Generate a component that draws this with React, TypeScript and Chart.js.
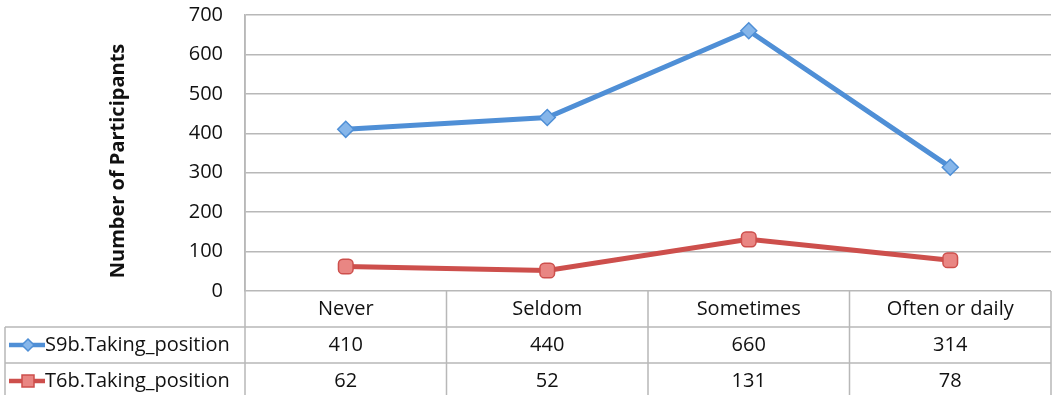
import React, { useEffect, useRef } from "react";
import { Chart, registerables } from "chart.js";

Chart.register(...registerables);

const categories = ["Never", "Seldom", "Sometimes", "Often or daily"];
const seriesNames = ["S9b.Taking_position", "T6b.Taking_position"];
const s9bValues = [410, 440, 660, 314];
const t6bValues = [62, 52, 131, 78];
const yAxisTitle = "Number of Participants";
const yMin = 0;
const yMax = 700;
const yStep = 100;

const FONT = '"Open Sans", "Noto Sans", sans-serif';
const GRID = "#b8b8b8";
const TEXT = "#111111";

const blueLine = "#4f8fd6";
const blueFill = "#86b6ea";
const redLine = "#cd4f4c";
const redFill = "#e98683";

const tablePlugin = {
  id: "dataTable",
  afterDraw(chart: any) {
    const ctx = chart.ctx as CanvasRenderingContext2D;
    const area = chart.chartArea;
    const xs = chart.scales.x;
    const n = categories.length;
    const colW = (area.right - area.left) / n;
    const rowH = 36;
    const y0 = area.bottom;
    const y1 = y0 + rowH;
    const y2 = y1 + rowH;
    const bottom = chart.height + 5;
    const tableLeft = 5;

    ctx.save();
    // y-axis title
    ctx.save();
    ctx.translate(118, 161);
    ctx.rotate(-Math.PI / 2);
    ctx.fillStyle = TEXT;
    ctx.font = `bold 20px ${FONT}`;
    ctx.textAlign = "center";
    ctx.textBaseline = "middle";
    ctx.fillText(yAxisTitle, 0, 0);
    ctx.restore();

    ctx.strokeStyle = GRID;
    ctx.lineWidth = 1.5;
    ctx.beginPath();
    ctx.moveTo(tableLeft, y1);
    ctx.lineTo(area.right, y1);
    ctx.moveTo(tableLeft, y2);
    ctx.lineTo(area.right, y2);
    ctx.moveTo(tableLeft, y1);
    ctx.lineTo(tableLeft, bottom);
    for (let i = 0; i <= n; i++) {
      const x = area.left + colW * i;
      ctx.moveTo(x, i === 0 ? area.top : y0);
      ctx.lineTo(x, bottom);
    }
    ctx.stroke();

    ctx.fillStyle = TEXT;
    ctx.font = `20px ${FONT}`;
    ctx.textAlign = "center";
    ctx.textBaseline = "middle";
    const rowsVals = [s9bValues, t6bValues];
    categories.forEach((c, i) => {
      const cx = xs.getPixelForValue(i);
      ctx.fillText(c, cx, y0 + rowH / 2);
      rowsVals.forEach((vals, r) => {
        ctx.fillText(String(vals[i]), cx, y1 + rowH * r + rowH / 2);
      });
    });

    const styles = [
      { line: blueLine, fill: blueFill, shape: "diamond" },
      { line: redLine, fill: redFill, shape: "square" },
    ];
    seriesNames.forEach((name, r) => {
      const cy = y1 + rowH * r + rowH / 2;
      const st = styles[r];
      ctx.strokeStyle = st.line;
      ctx.lineWidth = 4.5;
      ctx.beginPath();
      ctx.moveTo(9, cy);
      ctx.lineTo(45, cy);
      ctx.stroke();
      ctx.fillStyle = st.fill;
      ctx.strokeStyle = st.line;
      ctx.lineWidth = 1.5;
      ctx.beginPath();
      if (st.shape === "diamond") {
        ctx.moveTo(28, cy - 6);
        ctx.lineTo(34, cy);
        ctx.lineTo(28, cy + 6);
        ctx.lineTo(22, cy);
        ctx.closePath();
      } else {
        ctx.rect(22, cy - 6, 12, 12);
      }
      ctx.fill();
      ctx.stroke();
      ctx.fillStyle = TEXT;
      ctx.font = `20px ${FONT}`;
      ctx.textAlign = "left";
      ctx.fillText(name, 45, cy);
    });
    ctx.restore();
  },
};

export default function App() {
  const ref = useRef<HTMLCanvasElement>(null);

  useEffect(() => {
    document.body.style.margin = "0";
    const canvas = ref.current!;
    const chart = new Chart(canvas, {
      type: "line",
      data: {
        labels: categories,
        datasets: [
          {
            label: seriesNames[0],
            data: s9bValues,
            borderColor: blueLine,
            backgroundColor: blueFill,
            borderWidth: 5,
            pointStyle: "rectRot",
            pointRadius: 8,
            pointBorderWidth: 1.5,
            pointBackgroundColor: blueFill,
            pointBorderColor: blueLine,
            tension: 0,
          },
          {
            label: seriesNames[1],
            data: t6bValues,
            borderColor: redLine,
            backgroundColor: redFill,
            borderWidth: 5,
            pointStyle: "rectRounded",
            pointRadius: 8.5,
            pointBorderWidth: 1.5,
            pointBackgroundColor: redFill,
            pointBorderColor: redLine,
            tension: 0,
          },
        ],
      },
      options: {
        animation: false,
        responsive: true,
        maintainAspectRatio: false,
        layout: { padding: { top: 15, bottom: 104, left: 0, right: 0 } },
        plugins: {
          legend: { display: false },
          tooltip: { enabled: false },
        },
        scales: {
          x: {
            type: "category",
            display: false,
            offset: true,
          },
          y: {
            min: yMin,
            max: yMax,
            ticks: {
              stepSize: yStep,
              padding: 22,
              color: TEXT,
              font: { family: FONT, size: 20 },
            },
            grid: {
              color: GRID,
              lineWidth: 1.5,
              drawTicks: false,
            },
            border: { display: true, color: GRID, width: 1.5 },
            title: { display: false, text: yAxisTitle },
            afterFit(scale: any) {
              scale.width = 245;
              scale.paddingTop = 0;
              scale.paddingBottom = 0;
            },
          },
        },
      },
      plugins: [tablePlugin],
    });
    return () => chart.destroy();
  }, []);

  return (
    <div style={{ width: 1053, height: 395, overflow: "hidden" }}>
      <div style={{ width: 1061, height: 395, position: "relative" }}>
        <canvas ref={ref} />
      </div>
    </div>
  );
}
